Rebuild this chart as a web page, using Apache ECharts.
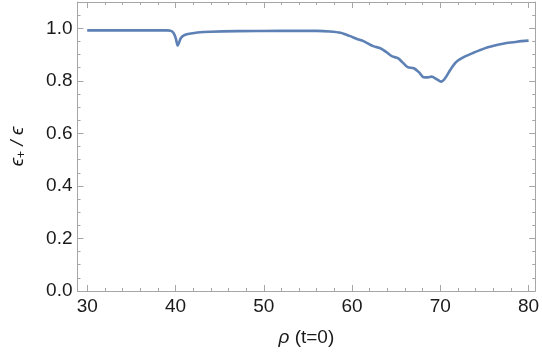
<!DOCTYPE html>
<html>
<head>
<meta charset="utf-8">
<script src="https://cdn.jsdelivr.net/npm/echarts@6/dist/echarts.min.js"></script>
<style>
  html, body { margin: 0; padding: 0; background: #fff; }
  #chart { width: 542px; height: 355px; }
</style>
</head>
<body>
<div id="chart"></div>
<script>
// rho (t=0) values and the ratio eps+/eps
var rho = [30, 35, 39.0, 39.5, 39.8, 40.0, 40.15, 40.25, 40.4, 40.6, 40.9, 41.4, 42.5, 44, 47, 52, 56, 57.5,
  58.7, 59.8, 60.5, 61.3, 62.4, 63.2, 63.9, 64.5, 65.2, 65.7, 66.3, 67.0, 67.6, 68.1, 68.6, 69.0, 69.6,
  70.1, 70.5, 71.1, 71.5, 72.0, 72.7, 73.7, 74.6, 75.3, 76.5, 77.5, 78.7, 80];
var ratio = [0.992, 0.992, 0.992, 0.990, 0.981, 0.965, 0.945, 0.934, 0.945, 0.962, 0.972, 0.978, 0.984, 0.987, 0.989, 0.990, 0.990, 0.988,
  0.983, 0.970, 0.960, 0.951, 0.932, 0.924, 0.909, 0.894, 0.886, 0.871, 0.852, 0.848, 0.832, 0.814, 0.813, 0.816, 0.806,
  0.797, 0.808, 0.840, 0.860, 0.877, 0.891, 0.906, 0.918, 0.927, 0.937, 0.944, 0.949, 0.953];

// ticks
var xMajor = [30, 40, 50, 60, 70, 80];
var xMinor = [32, 34, 36, 38, 42, 44, 46, 48, 52, 54, 56, 58, 62, 64, 66, 68, 72, 74, 76, 78];
var yMajor = [0, 0.2, 0.4, 0.6, 0.8, 1.0];
var yMinor = [0.05, 0.1, 0.15, 0.25, 0.3, 0.35, 0.45, 0.5, 0.55, 0.65, 0.7, 0.75, 0.85, 0.9, 0.95, 1.05];

var frame = '#a6a6a6';
var font = 'Liberation Sans, Arial, sans-serif';

var pts = [];
for (var i = 0; i < rho.length; i++) pts.push([rho[i], ratio[i]]);

function xAx(pos, ticks, len, labels, line) {
  return {
    type: 'value', position: pos, min: 28.9, max: 80.75,
    axisLine: { show: line, onZero: false, lineStyle: { color: frame, width: 1 } },
    axisTick: { show: true, inside: true, length: len, customValues: ticks, lineStyle: { color: frame } },
    axisLabel: labels ? { show: true, customValues: xMajor, color: '#1a1a1a', fontSize: 19, fontFamily: font, margin: 6 } : { show: false },
    splitLine: { show: false }
  };
}
function yAx(pos, ticks, len, labels, line) {
  return {
    type: 'value', position: pos, min: 0, max: 1.1,
    axisLine: { show: line, onZero: false, lineStyle: { color: frame, width: 1 } },
    axisTick: { show: true, inside: true, length: len, customValues: ticks, lineStyle: { color: frame } },
    axisLabel: labels ? { show: true, customValues: yMajor, color: '#1a1a1a', fontSize: 19, fontFamily: font, margin: 5,
      formatter: function (v) { return v.toFixed(1); } } : { show: false },
    splitLine: { show: false }
  };
}

var xs = [xAx('bottom', xMajor, 6, true, true), xAx('bottom', xMinor, 3, false, false),
          xAx('top', xMajor, 6, false, true), xAx('top', xMinor, 3, false, false)];
xs[0].name = '{r|ρ} (t=0)';
xs[0].nameLocation = 'middle';
xs[0].nameGap = 37;
xs[0].nameTextStyle = { fontSize: 19, fontFamily: font, color: '#1a1a1a',
  rich: { r: { fontSize: 19, fontFamily: font, fontStyle: 'italic', color: '#1a1a1a' } } };

var ys = [yAx('left', yMajor, 6, true, true), yAx('left', yMinor, 3, false, false),
          yAx('right', yMajor, 6, false, true), yAx('right', yMinor, 3, false, false)];
ys[0].name = '{e|ϵ}{s|+}{e| / ϵ}';
ys[0].nameLocation = 'middle';
ys[0].nameGap = 50;
ys[0].nameTextStyle = { fontSize: 19, fontFamily: font, color: '#1a1a1a',
  rich: {
    e: { fontSize: 19, fontFamily: font, fontStyle: 'italic', color: '#1a1a1a' },
    s: { fontSize: 12, fontFamily: font, color: '#1a1a1a', verticalAlign: 'bottom', padding: [8, 0, 0, 0] }
  } };

var myChart = echarts.init(document.getElementById('chart'));
var option = {
  animation: false,
  grid: { left: 67, right: 6, top: 2, bottom: 64, containLabel: false },
  xAxis: xs,
  yAxis: ys,
  series: [
    {
      type: 'line', xAxisIndex: 0, yAxisIndex: 0,
      data: pts, showSymbol: false, smooth: 0.3,
      lineStyle: { color: '#5e81b5', width: 2.6 }
    }
  ]
};
myChart.setOption(option);
</script>
</body>
</html>
